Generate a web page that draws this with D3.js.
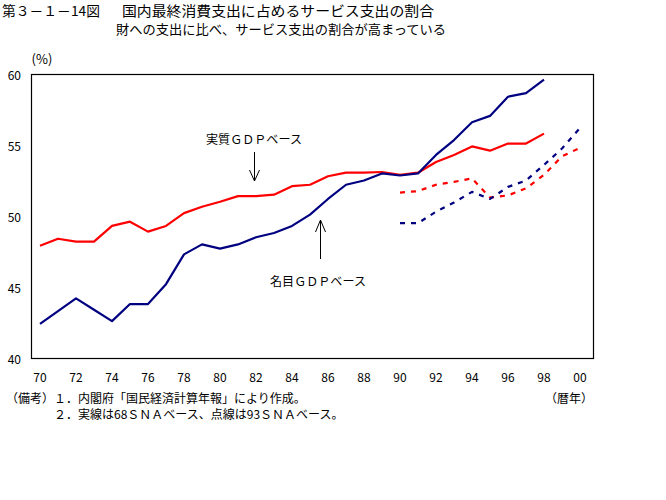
<!DOCTYPE html>
<html><head><meta charset="utf-8">
<script src="https://cdn.jsdelivr.net/npm/d3@7"></script>
<style>
html,body{margin:0;padding:0;background:#fff;}
text{font-family:"Noto Sans CJK JP","Noto Sans",sans-serif;fill:#000;}
</style></head>
<body><svg id="c" width="666" height="500"></svg>
<script>
// ---- data ----
const yearsSolid = d3.range(1970, 1999);   // 1970..1998 (68SNA)
const yearsDashed = d3.range(1990, 2001);  // 1990..2000 (93SNA)
const realSolid = [47.9,48.4,48.2,48.2,49.3,49.6,48.9,49.3,50.2,50.65,51.0,51.4,51.4,51.5,52.1,52.2,52.8,53.05,53.05,53.1,52.9,53.05,53.8,54.3,54.9,54.6,55.1,55.1,55.8];
const nominalSolid = [42.4,43.3,44.2,43.4,42.6,43.8,43.8,45.2,47.3,48.0,47.7,48.0,48.5,48.8,49.3,50.1,51.2,52.2,52.5,53.0,52.85,53.0,54.3,55.35,56.6,57.05,58.4,58.65,59.6];
const realDashed = [51.65,51.75,52.2,52.4,52.65,51.3,51.45,51.95,52.9,54.2,54.8];
const nominalDashed = [49.5,49.5,50.3,50.95,51.7,51.2,52.05,52.5,53.6,54.75,56.2];
const xTickYears = d3.range(1970, 2001, 2);
const xTickLabels = ["70","72","74","76","78","80","82","84","86","88","90","92","94","96","98","00"];
const yTicks = [40,45,50,55,60];

const svg = d3.select("#c");
svg.append("rect").attr("width",666).attr("height",500).attr("fill","#fff");

const x = d3.scaleLinear().domain([1970,2000]).range([40,580]);
const y = d3.scaleLinear().domain([40,60]).range([358,74]);

// plot frame
svg.append("rect").attr("x",31.5).attr("y",74.5).attr("width",562).attr("height",284)
  .attr("fill","none").attr("stroke","#000").attr("stroke-width",1.2);

// titles
svg.append("text").attr("x",2).attr("y",10).attr("dominant-baseline","central")
  .attr("font-size",13.5).attr("textLength",98).attr("lengthAdjust","spacingAndGlyphs").text("第３－１－14図");
svg.append("text").attr("x",122).attr("y",10).attr("dominant-baseline","central")
  .attr("font-size",13.5).attr("textLength",312).attr("lengthAdjust","spacingAndGlyphs").text("国内最終消費支出に占めるサービス支出の割合");
svg.append("text").attr("x",116).attr("y",28).attr("dominant-baseline","central")
  .attr("font-size",13).attr("textLength",330).attr("lengthAdjust","spacingAndGlyphs").text("財への支出に比べ、サービス支出の割合が高まっている");

// y axis labels
svg.append("text").attr("x",42).attr("y",58).attr("text-anchor","middle").attr("dominant-baseline","central")
  .attr("font-size",13).text("(%)");
svg.append("g").selectAll("text").data(yTicks).join("text")
  .attr("x",21).attr("y",d=>y(d)).attr("text-anchor","end").attr("dominant-baseline","central")
  .attr("font-size",12).text(d=>d);

// x axis labels
svg.append("g").selectAll("text").data(xTickYears).join("text")
  .attr("x",d=>x(d)).attr("y",376).attr("text-anchor","middle").attr("dominant-baseline","central")
  .attr("font-size",12).text((d,i)=>xTickLabels[i]);

// lines
const line = d3.line().x(d=>x(d[0])).y(d=>y(d[1]));
function draw(years, vals, color, dashed){
  svg.append("path").datum(years.map((yr,i)=>[yr,vals[i]]))
    .attr("d",line).attr("fill","none").attr("stroke",color).attr("stroke-width",2.2)
    .attr("stroke-linejoin","round")
    .attr("stroke-dasharray",dashed?"5,6":null);
}
draw(yearsSolid, realSolid, "#ff0000", false);
draw(yearsSolid, nominalSolid, "#000080", false);
draw(yearsDashed, realDashed, "#ff0000", true);
draw(yearsDashed, nominalDashed, "#000080", true);

// annotations
svg.append("text").attr("x",206).attr("y",138.5).attr("dominant-baseline","central")
  .attr("font-size",12).attr("textLength",96).attr("lengthAdjust","spacingAndGlyphs").text("実質ＧＤＰベース");
svg.append("text").attr("x",270).attr("y",280).attr("dominant-baseline","central")
  .attr("font-size",12).attr("textLength",96).attr("lengthAdjust","spacingAndGlyphs").text("名目ＧＤＰベース");
const arrows = svg.append("g").attr("stroke","#000").attr("stroke-width",1).attr("fill","none");
// down arrow (real)
arrows.append("path").attr("d","M254.5,152 L254.5,181 M249.5,170 L254.5,181 L259.5,170");
// up arrow (nominal)
arrows.append("path").attr("d","M320.5,259 L320.5,220 M315.5,232 L320.5,220 L325.5,232");

// footnotes
svg.append("text").attr("x",6).attr("y",397).attr("dominant-baseline","central")
  .attr("font-size",12).text("（備考）１．内閣府「国民経済計算年報」により作成。");
svg.append("text").attr("x",54).attr("y",413).attr("dominant-baseline","central")
  .attr("font-size",12).text("２．実線は68ＳＮＡベース、点線は93ＳＮＡベース。");
svg.append("text").attr("x",545).attr("y",397).attr("dominant-baseline","central")
  .attr("font-size",12).text("（暦年）");
</script></body></html>
